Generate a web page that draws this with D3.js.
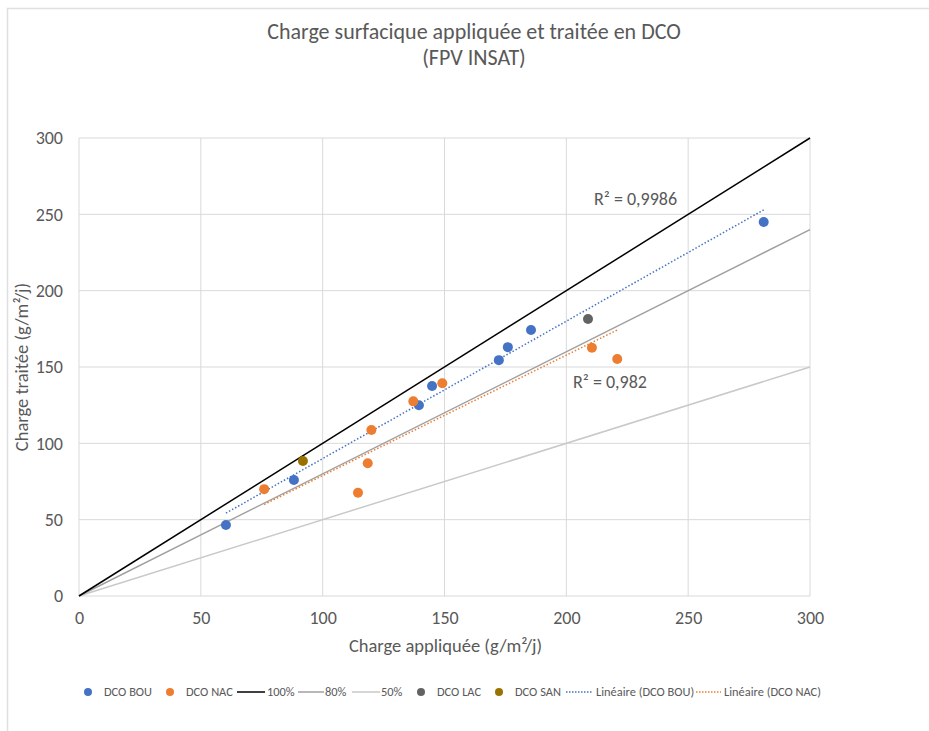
<!DOCTYPE html>
<html><head><meta charset="utf-8">
<script src="https://cdn.jsdelivr.net/npm/d3@7"></script>
<style>
body{margin:0;background:#fff;}
text{font-family:Carlito,"Liberation Sans Narrow","Open Sans",sans-serif;}
</style></head>
<body><svg id="c" width="929" height="731"></svg>
<script>
// ---- data ----
const bouX = [60.3, 88.2, 139.5, 144.9, 172.3, 176.0, 185.5, 281.0];
const bouY = [46.5, 76.0, 125.0, 137.5, 154.5, 163.0, 174.2, 245.0];
const nacX = [76.0, 120.0, 114.5, 118.5, 137.2, 149.1, 210.5, 220.9];
const nacY = [70.0, 108.7, 67.6, 86.9, 127.5, 139.3, 162.6, 155.2];
const lacX = [208.9];
const lacY = [181.4];
const sanX = [91.9];
const sanY = [88.4];
const refX = [0, 300];
const ref100 = [0, 300];
const ref80 = [0, 240];
const ref50 = [0, 150];
const xTicks = [0, 50, 100, 150, 200, 250, 300];
const yTicks = [0, 50, 100, 150, 200, 250, 300];
const r2Bou = "R² = 0,9986";
const r2Nac = "R² = 0,982";
const titleLines = ["Charge surfacique appliquée et traitée en DCO", "(FPV INSAT)"];
const xTitle = "Charge appliquée (g/m²/j)";
const yTitle = "Charge traitée (g/m²/j)";

// ---- layout ----
const svg = d3.select("#c");
const L = 79, R = 810, T = 138, B = 596;
const x = d3.scaleLinear().domain([0, 300]).range([L, R]);
const y = d3.scaleLinear().domain([0, 300]).range([B, T]);
const txt = "#595959";
const ff = 'Carlito,"Liberation Sans Narrow","Open Sans",sans-serif';

// chart border
svg.append("rect").attr("x", 7.5).attr("y", 8.5).attr("width", 940).attr("height", 740)
  .attr("fill", "none").attr("stroke", "#e0e0e0").attr("stroke-width", 1.5);

// title
svg.append("text").attr("x", 474).attr("y", 39).attr("text-anchor", "middle")
  .attr("font-size", 22).attr("fill", txt).text(titleLines[0]);
svg.append("text").attr("x", 474).attr("y", 65).attr("text-anchor", "middle")
  .attr("font-size", 22).attr("fill", txt).text(titleLines[1]);

// grid
const grid = svg.append("g");
grid.selectAll(".gx").data(xTicks).join("line")
  .attr("x1", d => x(d)).attr("x2", d => x(d)).attr("y1", T).attr("y2", B)
  .attr("stroke", "#d9d9d9").attr("stroke-width", 1);
grid.selectAll(".gy").data(yTicks).join("line")
  .attr("x1", L).attr("x2", R).attr("y1", d => y(d)).attr("y2", d => y(d))
  .attr("stroke", "#d9d9d9").attr("stroke-width", 1);

// axes
const xAxis = svg.append("g").attr("transform", `translate(0,${B})`)
  .call(d3.axisBottom(x).tickValues(xTicks).tickSize(0).tickPadding(15));
const yAxis = svg.append("g").attr("transform", `translate(${L},0)`)
  .call(d3.axisLeft(y).tickValues(yTicks).tickSize(0).tickPadding(16));
[xAxis, yAxis].forEach(a => {
  a.select(".domain").remove();
  a.selectAll("text").attr("font-size", 18).attr("fill", txt).attr("font-family", ff);
});

svg.append("text").attr("x", (L + R) / 2 + 1).attr("y", 652).attr("text-anchor", "middle")
  .attr("font-size", 18.5).attr("fill", txt).text(xTitle);
svg.append("text").attr("transform", `translate(28,${(T + B) / 2}) rotate(-90)`)
  .attr("text-anchor", "middle").attr("font-size", 18.5).attr("fill", txt).text(yTitle);

// reference lines
const line = d3.line().x(d => x(d[0])).y(d => y(d[1]));
function refLine(ys, color, w) {
  svg.append("path").datum(refX.map((v, i) => [v, ys[i]]))
    .attr("d", line).attr("fill", "none").attr("stroke", color).attr("stroke-width", w);
}
refLine(ref50, "#c9c9c9", 1.5);
refLine(ref80, "#a0a0a0", 1.5);
refLine(ref100, "#000000", 1.5);

// trendlines (linear regression through origin)
function trend(xs, ys, color) {
  const sxy = d3.sum(xs, (v, i) => v * ys[i]);
  const sxx = d3.sum(xs, v => v * v);
  const k = sxy / sxx;
  const [x0, x1] = d3.extent(xs);
  svg.append("path").datum([[x0, k * x0], [x1, k * x1]])
    .attr("d", line).attr("fill", "none").attr("stroke", color)
    .attr("stroke-width", 1.5).attr("stroke-dasharray", "1.5,2");
}
trend(nacX, nacY, "#ED7D31");
trend(bouX, bouY, "#4472C4");

// points
function pts(xs, ys, color) {
  svg.append("g").selectAll("circle").data(xs.map((v, i) => [v, ys[i]])).join("circle")
    .attr("cx", d => x(d[0])).attr("cy", d => y(d[1])).attr("r", 5).attr("fill", color);
}
pts(bouX, bouY, "#4472C4");
pts(nacX, nacY, "#ED7D31");
pts(lacX, lacY, "#636363");
pts(sanX, sanY, "#997300");

// R² labels
svg.append("text").attr("x", 594).attr("y", 205).attr("font-size", 18).attr("fill", txt).text(r2Bou);
svg.append("text").attr("x", 573).attr("y", 388).attr("font-size", 18).attr("fill", txt).text(r2Nac);

// legend
const ly = 692;
const leg = svg.append("g").attr("font-size", 12.4).attr("fill", txt);
const items = [
  {t: "marker", c: "#4472C4", label: "DCO BOU", mx: 88, tx: 104},
  {t: "marker", c: "#ED7D31", label: "DCO NAC", mx: 170, tx: 186},
  {t: "line", c: "#000000", label: "100%", x0: 237, x1: 265, tx: 267},
  {t: "line", c: "#a0a0a0", label: "80%", x0: 298, x1: 324, tx: 325},
  {t: "line", c: "#c9c9c9", label: "50%", x0: 352, x1: 380, tx: 381},
  {t: "marker", c: "#636363", label: "DCO LAC", mx: 421, tx: 437},
  {t: "marker", c: "#997300", label: "DCO SAN", mx: 499, tx: 515},
  {t: "dot", c: "#4472C4", label: "Linéaire (DCO BOU)", x0: 566, x1: 593, tx: 596},
  {t: "dot", c: "#ED7D31", label: "Linéaire (DCO NAC)", x0: 696, x1: 721, tx: 724}
];
items.forEach(it => {
  if (it.t === "marker") {
    leg.append("circle").attr("cx", it.mx).attr("cy", ly).attr("r", 4).attr("fill", it.c);
  } else {
    leg.append("line").attr("x1", it.x0).attr("x2", it.x1).attr("y1", ly).attr("y2", ly)
      .attr("stroke", it.c).attr("stroke-width", 1.5)
      .attr("stroke-dasharray", it.t === "dot" ? "1.5,1.5" : null);
  }
  leg.append("text").attr("x", it.tx).attr("y", ly + 4).text(it.label);
});
</script></body></html>
